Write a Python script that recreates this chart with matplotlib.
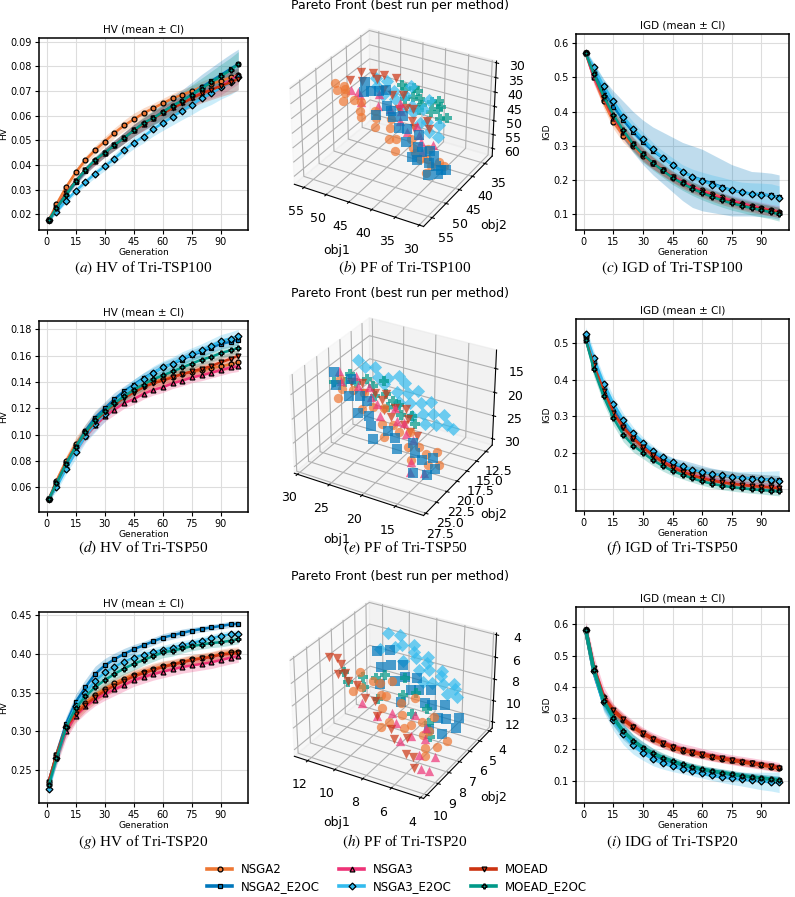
import numpy as np
import matplotlib
matplotlib.use("Agg")
import matplotlib.pyplot as plt

plt.rcParams['mathtext.fontset'] = 'stix'

W, H = 795, 897

METHODS = ["NSGA2", "NSGA2_E2OC", "NSGA3", "NSGA3_E2OC", "MOEAD", "MOEAD_E2OC"]
COLORS = ["#EE7733", "#0077BB", "#EE3377", "#33BBEE", "#CC3311", "#009988"]
MARKERS = ["o", "s", "^", "D", "v", "P"]

GEN = [1, 5, 10, 15, 20, 25, 30, 35, 40, 45, 50, 55, 60, 65, 70, 75, 80, 85, 90, 95, 99]

# ---- HV Tri-TSP100 (mean) ----
HV100_NSGA2 = [.0175, .024, .031, .037, .042, .046, .0495, .053, .056, .0585, .061, .063, .065, .067, .0685, .070, .0715, .073, .074, .0755, .0765]
HV100_NSGA2_E2OC = [.0175, .022, .028, .033, .0375, .0415, .045, .048, .051, .054, .0565, .059, .0615, .064, .066, .0685, .0715, .074, .0765, .079, .081]
HV100_NSGA3 = [.0175, .0225, .0285, .0335, .038, .0415, .045, .048, .051, .054, .0565, .059, .0615, .0635, .0655, .0675, .069, .0705, .072, .0745, .0765]
HV100_NSGA3_E2OC = [.0175, .021, .0255, .0295, .033, .0365, .0395, .0425, .046, .049, .0515, .0545, .057, .0595, .062, .0645, .067, .069, .0715, .0735, .0755]
HV100_MOEAD = [.0175, .0225, .0285, .0335, .038, .0415, .045, .048, .051, .054, .0565, .059, .061, .063, .065, .067, .069, .0705, .072, .0735, .075]
HV100_MOEAD_E2OC = [.0175, .0225, .028, .0335, .038, .042, .045, .048, .051, .054, .057, .059, .0615, .064, .066, .0685, .071, .0735, .076, .0785, .081]
# CI half widths
HV100_CI_NSGA2 = [.0005, .001, .0012, .0015, .0016, .0018, .002, .002, .0022, .0025, .0022, .002, .002, .002, .0022, .0022, .0024, .0025, .0025, .0026, .0026]
HV100_CI_NSGA2_E2OC = [.0005, .0008, .001, .0012, .0014, .0016, .0018, .002, .0022, .0024, .0026, .003, .0035, .004, .0045, .005, .0052, .0055, .0058, .006, .006]
HV100_CI_NSGA3 = [.0005, .0008, .001, .0012, .0014, .0016, .0018, .002, .0022, .0024, .0025, .0025, .0026, .0027, .0028, .003, .0032, .0034, .0036, .0036, .0036]
HV100_CI_NSGA3_E2OC = [.0005, .0008, .001, .0012, .0014, .0016, .0018, .002, .0022, .0024, .0026, .0028, .003, .0033, .0036, .004, .0042, .0045, .0048, .005, .005]
HV100_CI_MOEAD = [.0005, .0008, .001, .0012, .0014, .0016, .0018, .002, .0022, .0024, .0025, .0026, .0028, .003, .0032, .0035, .0038, .004, .0042, .0045, .0045]
HV100_CI_MOEAD_E2OC = [.0005, .0008, .001, .0012, .0014, .0016, .0018, .002, .0022, .0024, .0026, .0028, .003, .0033, .0036, .004, .0042, .0045, .0048, .005, .005]

# ---- IGD Tri-TSP100 ----
IGD100_NSGA2 = [.57, .50, .43, .37, .33, .30, .27, .25, .23, .21, .195, .18, .17, .16, .15, .14, .13, .125, .118, .112, .108]
IGD100_NSGA2_E2OC = [.57, .52, .46, .415, .375, .34, .31, .285, .265, .245, .225, .21, .20, .19, .18, .17, .165, .16, .158, .155, .15]
IGD100_NSGA3 = [.57, .50, .44, .38, .34, .305, .275, .25, .23, .21, .195, .18, .168, .157, .148, .14, .132, .125, .118, .112, .108]
IGD100_NSGA3_E2OC = [.57, .53, .475, .43, .385, .35, .32, .29, .265, .245, .225, .21, .198, .187, .178, .17, .164, .16, .157, .154, .148]
IGD100_MOEAD = [.57, .51, .44, .385, .34, .305, .275, .25, .228, .208, .19, .176, .164, .153, .143, .135, .127, .12, .115, .11, .105]
IGD100_MOEAD_E2OC = [.57, .51, .445, .39, .345, .305, .275, .25, .228, .207, .19, .175, .162, .151, .141, .132, .125, .118, .112, .106, .10]
IGD100_CI_NSGA2 = [.01, .015, .02, .02, .02, .018, .018, .017, .016, .015, .015, .014, .014, .013, .013, .012, .012, .012, .012, .012, .012]
IGD100_CI_NSGA2_E2OC = [.01, .02, .035, .045, .055, .06, .065, .07, .075, .08, .085, .09, .09, .085, .08, .075, .07, .065, .065, .065, .065]
IGD100_CI_NSGA3 = [.012, .02, .022, .02, .02, .018, .018, .017, .016, .016, .015, .015, .015, .015, .015, .015, .016, .016, .017, .017, .017]
IGD100_CI_NSGA3_E2OC = [.01, .015, .02, .02, .02, .02, .02, .02, .02, .02, .02, .022, .025, .028, .03, .03, .03, .032, .034, .035, .035]
IGD100_CI_MOEAD = [.012, .02, .02, .02, .02, .018, .018, .017, .016, .015, .015, .015, .015, .015, .015, .015, .015, .015, .015, .015, .015]
IGD100_CI_MOEAD_E2OC = [.01, .015, .02, .022, .022, .022, .022, .021, .02, .02, .02, .02, .02, .02, .02, .02, .02, .02, .02, .02, .02]

# ---- HV Tri-TSP50 ----
HV50_NSGA2 = [.051, .065, .080, .093, .103, .112, .119, .125, .130, .134, .137, .140, .142, .144, .146, .1475, .149, .1505, .152, .1535, .155]
HV50_NSGA2_E2OC = [.051, .063, .078, .091, .103, .113, .120, .127, .133, .138, .143, .147, .151, .154, .157, .1605, .163, .166, .169, .1705, .172]
HV50_NSGA3 = [.051, .063, .077, .089, .099, .107, .114, .119, .124, .127, .131, .134, .136, .139, .141, .1435, .145, .147, .149, .151, .152]
HV50_NSGA3_E2OC = [.051, .060, .074, .087, .099, .108, .116, .124, .131, .137, .142, .147, .151, .154, .158, .161, .164, .1675, .171, .173, .175]
HV50_MOEAD = [.051, .063, .078, .091, .101, .110, .117, .123, .128, .132, .136, .139, .141, .1435, .146, .148, .150, .152, .155, .1575, .160]
HV50_MOEAD_E2OC = [.051, .063, .078, .091, .102, .111, .118, .124, .129, .134, .138, .142, .145, .148, .151, .154, .157, .159, .162, .164, .166]
HV50_CI_NSGA2 = [.002, .003, .004, .005, .005, .005, .005, .004, .004, .004, .004, .004, .004, .004, .004, .004, .004, .004, .004, .004, .004]
HV50_CI_NSGA2_E2OC = [.002, .003, .004, .005, .005, .005, .005, .005, .004, .004, .004, .004, .004, .004, .004, .004, .004, .004, .004, .004, .004]
HV50_CI_NSGA3 = [.002, .003, .003, .004, .004, .004, .004, .004, .004, .004, .004, .004, .004, .004, .004, .004, .004, .004, .004, .004, .004]
HV50_CI_NSGA3_E2OC = [.002, .003, .004, .005, .005, .006, .006, .005, .005, .005, .005, .005, .005, .005, .005, .005, .005, .005, .005, .005, .005]
HV50_CI_MOEAD = [.002, .003, .003, .004, .004, .004, .004, .004, .004, .004, .004, .004, .004, .005, .005, .005, .005, .005, .005, .005, .005]
HV50_CI_MOEAD_E2OC = [.002, .003, .003, .004, .004, .004, .004, .004, .004, .004, .004, .004, .004, .004, .004, .004, .004, .004, .004, .004, .004]

# ---- IGD Tri-TSP50 ----
IGD50_NSGA2 = [.52, .44, .37, .31, .27, .24, .215, .195, .18, .167, .157, .15, .145, .14, .136, .133, .13, .128, .126, .124, .122]
IGD50_NSGA2_E2OC = [.52, .45, .38, .32, .275, .245, .22, .20, .184, .17, .16, .153, .147, .142, .138, .135, .132, .13, .128, .126, .125]
IGD50_NSGA3 = [.51, .44, .37, .31, .27, .24, .215, .194, .177, .163, .15, .14, .132, .126, .12, .116, .113, .11, .108, .106, .105]
IGD50_NSGA3_E2OC = [.525, .46, .39, .335, .29, .255, .228, .206, .188, .174, .163, .154, .147, .142, .138, .134, .131, .129, .127, .125, .123]
IGD50_MOEAD = [.51, .44, .37, .31, .27, .24, .215, .193, .175, .16, .148, .138, .13, .124, .119, .115, .112, .109, .107, .105, .103]
IGD50_MOEAD_E2OC = [.51, .43, .355, .295, .25, .22, .20, .18, .164, .15, .14, .13, .122, .115, .11, .106, .103, .10, .098, .096, .094]
IGD50_CI_NSGA2 = [.015, .02, .02, .02, .018, .016, .015, .014, .013, .013, .013, .014, .015, .016, .016, .015, .015, .015, .015, .015, .015]
IGD50_CI_NSGA2_E2OC = [.015, .02, .02, .02, .018, .016, .015, .014, .014, .016, .02, .02, .018, .016, .015, .014, .013, .013, .013, .013, .013]
IGD50_CI_NSGA3 = [.015, .02, .02, .02, .018, .016, .015, .015, .014, .013, .012, .012, .012, .012, .012, .012, .012, .012, .012, .012, .012]
IGD50_CI_NSGA3_E2OC = [.02, .02, .02, .02, .018, .016, .015, .014, .013, .013, .013, .013, .013, .014, .015, .016, .018, .02, .022, .025, .028]
IGD50_CI_MOEAD = [.015, .02, .02, .02, .018, .016, .015, .014, .013, .012, .012, .011, .011, .011, .011, .011, .011, .011, .011, .011, .011]
IGD50_CI_MOEAD_E2OC = [.015, .02, .02, .02, .02, .018, .016, .015, .014, .013, .012, .011, .011, .011, .011, .011, .011, .011, .011, .012, .012]

# ---- HV Tri-TSP20 ----
HV20_NSGA2 = [.235, .27, .305, .325, .337, .347, .355, .362, .368, .373, .377, .381, .384, .387, .39, .393, .395, .397, .400, .402, .403]
HV20_NSGA2_E2OC = [.235, .27, .31, .338, .357, .374, .385, .393, .40, .406, .411, .416, .421, .424, .427, .430, .432, .434, .436, .438, .439]
HV20_NSGA3 = [.235, .265, .30, .32, .332, .341, .348, .354, .36, .366, .37, .374, .377, .380, .383, .385, .387, .389, .392, .395, .397]
HV20_NSGA3_E2OC = [.226, .265, .305, .333, .35, .365, .376, .383, .39, .395, .399, .402, .405, .408, .411, .414, .417, .42, .423, .425, .426]
HV20_MOEAD = [.235, .27, .305, .322, .334, .344, .352, .359, .365, .371, .375, .379, .383, .386, .389, .392, .394, .396, .399, .400, .401]
HV20_MOEAD_E2OC = [.23, .265, .305, .33, .345, .357, .366, .374, .381, .387, .392, .397, .402, .404, .407, .410, .412, .414, .415, .417, .419]
HV20_CI_NSGA2 = [.006, .008, .008, .008, .008, .008, .008, .007, .007, .007, .007, .007, .007, .006, .006, .006, .006, .006, .006, .006, .006]
HV20_CI_NSGA2_E2OC = [.006, .008, .009, .01, .01, .01, .009, .008, .007, .006, .005, .005, .005, .005, .005, .004, .004, .004, .004, .004, .004]
HV20_CI_NSGA3 = [.006, .01, .01, .009, .009, .008, .008, .008, .008, .008, .008, .008, .008, .008, .008, .008, .008, .008, .008, .008, .008]
HV20_CI_NSGA3_E2OC = [.006, .008, .009, .01, .01, .009, .008, .007, .007, .007, .006, .006, .006, .006, .006, .005, .005, .005, .005, .005, .005]
HV20_CI_MOEAD = [.006, .01, .01, .009, .008, .008, .008, .007, .007, .007, .007, .007, .007, .006, .006, .006, .006, .006, .006, .006, .006]
HV20_CI_MOEAD_E2OC = [.006, .008, .009, .01, .01, .009, .009, .008, .008, .008, .007, .007, .007, .007, .006, .006, .006, .006, .006, .006, .006]

# ---- IGD Tri-TSP20 ----
IGD20_NSGA2 = [.58, .45, .36, .32, .295, .27, .25, .233, .218, .205, .196, .19, .183, .176, .17, .165, .16, .155, .15, .145, .14]
IGD20_NSGA2_E2OC = [.58, .45, .35, .30, .255, .225, .205, .185, .17, .16, .15, .142, .135, .13, .125, .12, .115, .111, .108, .105, .103]
IGD20_NSGA3 = [.58, .46, .37, .325, .297, .274, .252, .235, .222, .21, .20, .193, .186, .179, .173, .167, .162, .157, .152, .147, .143]
IGD20_NSGA3_E2OC = [.58, .45, .35, .295, .25, .215, .19, .17, .157, .147, .138, .13, .123, .117, .112, .108, .105, .102, .099, .097, .095]
IGD20_MOEAD = [.58, .46, .365, .325, .296, .272, .251, .234, .22, .207, .198, .191, .184, .177, .171, .166, .161, .156, .151, .146, .141]
IGD20_MOEAD_E2OC = [.58, .455, .355, .30, .258, .228, .205, .188, .174, .162, .152, .144, .137, .131, .126, .121, .116, .112, .108, .105, .102]
IGD20_CI_NSGA2 = [.02, .02, .02, .018, .016, .015, .014, .014, .013, .013, .013, .013, .012, .012, .012, .012, .012, .012, .012, .012, .012]
IGD20_CI_NSGA2_E2OC = [.02, .02, .025, .025, .025, .022, .02, .018, .016, .015, .014, .013, .012, .012, .012, .012, .012, .012, .012, .012, .012]
IGD20_CI_NSGA3 = [.03, .04, .03, .02, .02, .018, .018, .018, .018, .018, .018, .018, .017, .017, .016, .016, .016, .016, .016, .016, .015]
IGD20_CI_NSGA3_E2OC = [.02, .02, .03, .035, .035, .03, .025, .022, .02, .018, .016, .015, .015, .016, .018, .02, .022, .025, .028, .03, .033]
IGD20_CI_MOEAD = [.02, .02, .02, .018, .016, .015, .014, .014, .013, .013, .013, .013, .012, .012, .012, .012, .012, .012, .012, .012, .012]
IGD20_CI_MOEAD_E2OC = [.02, .02, .025, .025, .022, .02, .018, .016, .015, .014, .013, .012, .012, .012, .012, .012, .012, .012, .012, .012, .012]

# ---- Pareto fronts, best run (obj1, obj2, obj3) ----
PF100_NSGA2 = [(55, 47, 36), (54, 48, 37), (53.5, 46, 38), (52, 49, 39), (54.5, 45, 38.5), (51, 47, 40), (49, 48, 42),
               (47, 46, 43), (45, 49, 45), (43, 47, 46), (41, 48, 48), (39, 46, 49), (37, 48, 51), (35, 47, 53),
               (33.5, 48, 54), (32, 46, 55), (34, 49, 55.5), (36, 45, 52), (40, 50, 50), (44, 45, 45),
               (53, 47, 38.5), (50, 46, 41), (48, 49, 43), (46, 47, 44), (42, 49, 47.5), (38, 47, 50.5), (36, 48, 52.5),
               (33, 46, 54)]
PF100_NSGA2_E2OC = [(51, 43, 37), (49, 44, 38.5), (47, 42, 39), (45, 45, 41), (43, 46, 43), (41, 47, 45), (39, 48, 48),
                    (37, 47, 50), (36, 49, 52), (34, 48, 53), (33, 47, 54.5), (32, 48, 56), (35, 46, 51), (38, 45, 48),
                    (42, 44, 44), (46, 47, 43), (33, 50, 55), (31, 47, 55),
                    (50, 45, 38.5), (48, 43, 39), (44, 45, 42.5), (40, 46, 46), (36, 47, 51), (34, 46, 52.5),
                    (32, 47, 55.5), (37, 49, 51.5)]
PF100_NSGA3 = [(53, 45, 39), (52, 44, 40), (50, 46, 41), (48, 43, 40), (45, 44, 43), (42, 45, 45), (39, 44, 46),
               (37, 46, 49), (35, 45, 50), (44, 42, 42),
               (51, 45, 40), (47, 45, 42), (43, 43, 43.5), (40, 46, 47), (38, 45, 48), (36, 47, 51)]
PF100_NSGA3_E2OC = [(50, 41, 37), (48, 40, 38), (46, 41, 39.5), (44, 40, 41), (42, 41, 43), (40, 40, 44), (38, 42, 46),
                    (36, 41, 47), (35, 43, 49), (47, 43, 40), (43, 43, 43), (39, 43, 46),
                    (49, 42, 38.5), (45, 42, 41), (41, 42, 44), (37, 43, 48), (44, 38, 39.5), (40, 38, 42.5)]
PF100_MOEAD = [(52, 43, 34), (50, 42, 34.5), (48, 41, 35), (46, 40, 36), (53, 45, 35.5), (45, 43, 39), (43, 44, 42),
               (41, 42, 43), (39, 45, 46), (37, 43, 47), (44, 41, 40),
               (51, 44, 36), (49, 42, 36), (47, 43, 38), (42, 43, 42), (40, 44, 45), (38, 42, 45.5)]
PF100_MOEAD_E2OC = [(46, 38, 40), (44, 37, 41), (42, 38, 43), (40, 37, 44), (38, 38, 45), (37, 39, 47), (41, 40, 45),
                    (43, 39, 42), (39, 36, 44), (36, 38, 47),
                    (45, 38, 41), (43, 37, 41.5), (41, 39, 44), (39, 39, 45.5), (44, 40, 42.5), (38, 37, 45)]

PF50_NSGA2 = [(28, 21, 16), (27, 22, 17), (25, 20, 18.5), (23, 21, 20), (21, 22, 22), (19, 21, 23.5), (17, 22, 25),
              (15, 21, 26.5), (14, 22, 27.5), (13, 21, 28), (16, 23, 26.5), (20, 23, 23.5), (24, 22, 20), (18, 20, 24),
              (26, 21, 17.5), (22, 20, 20.5), (20, 21, 22.5), (16, 21, 25.5), (14, 20, 26.5), (27, 23, 18)]
PF50_NSGA2_E2OC = [(29, 21, 15), (27, 20, 16.5), (26, 22, 18), (24, 23, 20), (22, 23, 22), (20, 22, 23), (18, 23, 25),
                   (16, 22, 26), (14, 21, 27), (13.5, 23, 28.5), (15, 24, 28), (21, 24, 23.5), (25, 21, 18.5), (17, 21, 25),
                   (28, 22, 16.5), (23, 22, 21), (19, 22, 24), (15, 22, 27), (13, 22, 28), (24, 21, 19)]
PF50_NSGA3 = [(29, 20, 15.5), (27, 19, 16.5), (25, 19, 18), (23, 20, 20), (21, 19, 21), (19, 20, 22.5), (17, 21, 24.5),
              (15.5, 24, 28), (14, 23, 28.5), (22, 21, 21.5), (20, 20, 22.5),
              (28, 21, 16.5), (24, 20, 19), (18, 21, 23.5), (16, 23, 27), (26, 20, 17.5)]
PF50_NSGA3_E2OC = [(27, 17, 16), (26, 16, 16.5), (25, 17, 17.5), (24, 16, 18), (22, 17, 19.5), (21, 16, 20), (20, 17, 21),
                   (19, 16, 21.5), (18, 17, 22.5), (17, 16, 23), (16, 17, 24), (15, 16, 24.5), (23, 15, 18), (20, 15, 20),
                   (18, 15, 21.5), (21, 18, 20.5), (17, 18, 23.5),
                   (28, 17, 15), (24, 17, 18.5), (22, 15, 19), (19, 18, 22.5), (16, 15, 23.5), (14, 16, 25)]
PF50_MOEAD = [(26, 19, 17.5), (24, 19, 19), (23, 18, 19.5), (21, 19, 21), (20, 18, 21.5), (19, 19, 22.5), (22, 20, 21),
              (18, 20, 24), (25, 20, 18.5),
              (27, 20, 17), (23, 19, 20), (21, 20, 22), (19, 20, 23), (17, 20, 24.5)]
PF50_MOEAD_E2OC = [(29, 21, 17), (28, 20, 17.5), (27, 19, 18), (25, 18, 18.5), (23, 18, 19.5), (21, 18, 21), (20, 19, 22),
                   (18, 19, 23), (24, 17, 18), (22, 19, 21),
                   (28, 19, 16.5), (26, 18, 17.5), (24, 19, 19.5), (22, 18, 20.5), (19, 18, 22.5)]

PF20_NSGA2 = [(10.5, 7.5, 6.5), (10, 8, 7.2), (9.5, 7, 7.5), (9, 7.5, 8), (8.5, 8, 8.6), (8, 7, 8.8), (7.5, 7.5, 9.3),
              (7, 8, 9.8), (6.5, 7, 10), (6, 7.5, 10.5), (5.5, 8, 11), (5, 7.5, 11.2), (4.7, 7, 11), (9, 6.5, 7.6),
              (7.5, 6.3, 8.8), (6, 6.5, 9.8), (10.2, 8.5, 7.2), (8, 8.7, 9.4),
              (9.8, 7.2, 7.3), (8.8, 7.3, 8.2), (7.8, 8.3, 9.3), (6.8, 7.6, 9.8), (5.8, 7.2, 10.4), (5.2, 8.4, 11.3)]
PF20_NSGA2_E2OC = [(10.5, 6, 5.8), (10, 5.5, 6), (9.5, 6, 6.8), (9, 5.5, 7), (8.5, 6, 7.5), (8, 5.5, 7.8), (7.5, 6, 8.3),
                   (7, 5.5, 8.6), (6.5, 6, 9.3), (6, 5.5, 9.6), (5.5, 6, 10.3), (5, 5.5, 10.4), (9.5, 7, 7.6), (8, 7, 8.7),
                   (6, 7, 10.4), (5.2, 6.8, 10.8),
                   (9.8, 6.5, 6.6), (8.8, 6.5, 7.5), (7.8, 6.3, 8.2), (6.8, 6.3, 9), (5.8, 6.4, 9.9), (4.8, 6, 10.8)]
PF20_NSGA3 = [(9.5, 8.5, 8), (8.5, 8.5, 8.8), (7.5, 8, 9.5), (6.5, 8, 10.3), (5.5, 8.5, 11.2), (5, 9, 11.8), (4.8, 8, 11.6),
              (7, 7, 9.5), (6, 7.2, 10.2),
              (8, 7.8, 9), (6.8, 8.6, 10.3), (5.8, 7.6, 10.7), (4.6, 8.8, 12)]
PF20_NSGA3_E2OC = [(10.5, 5, 5), (10, 4.6, 5.3), (9.5, 5, 5.8), (9, 4.5, 6), (8.5, 5, 6.6), (8, 4.5, 6.8), (7.5, 5, 7.4),
                   (7, 4.5, 7.7), (6.5, 5, 8.3), (6, 4.6, 8.5), (5.5, 5, 9.1), (9, 5.5, 6.6), (8, 5.3, 7.3), (7, 5.4, 8),
                   (6, 5.3, 8.8), (10.5, 5.8, 5.8),
                   (9.8, 5.3, 5.8), (8.8, 4.8, 6.3), (7.8, 4.8, 7), (6.8, 4.8, 7.8), (5.8, 4.8, 8.7), (7.5, 5.6, 7.9)]
PF20_MOEAD = [(12.3, 8, 5.3), (12, 7.7, 5.6), (11.6, 7.8, 5.9), (11.2, 8, 6.4), (10.8, 8.2, 6.8), (10.3, 8, 7.1),
              (9.5, 8.3, 7.8), (8.5, 8.5, 8.8), (7.5, 8.5, 9.6), (6, 9, 10.8), (5.3, 9.2, 11.6), (5.7, 8.8, 11.2),
              (11.4, 8.3, 6.3), (9, 8, 8.1), (7, 8.8, 10), (6.5, 8.3, 10.2)]
PF20_MOEAD_E2OC = [(11.2, 8, 6.3), (10.8, 8.2, 6.9), (10.3, 7.5, 6.9), (9.5, 6.5, 7.2), (8.5, 6, 7.6), (7.5, 6.2, 8.4),
                   (6.5, 6.5, 9.3), (5.5, 7.5, 10.5), (9, 7.8, 8.1), (7, 7.2, 9.3),
                   (10, 7.8, 7.4), (8, 6.8, 8.3), (6, 7, 9.9), (9.8, 7, 7.2)]


def rect(left, top, right, bottom):
    # pixel box -> figure fraction
    return [left / W, 1 - bottom / H, (right - left) / W, (bottom - top) / H]


def line_panel(fig, box, means, cis, title, ylabel, ylim, yticks):
    ax = fig.add_axes(rect(*box))
    for m, ci, c, mk, name in zip(means, cis, COLORS, MARKERS, METHODS):
        m = np.array(m)
        ci = np.array(ci)
        ax.fill_between(GEN, m - ci, m + ci, color=c, alpha=0.25, lw=0)
        ax.plot(GEN, m, color=c, lw=1.8, marker=mk, ms=3.5, mfc=c, mec="black", mew=0.9, label=name)
    ax.set_xlim(-4, 104)
    ax.set_ylim(*ylim)
    ax.set_xticks([0, 15, 30, 45, 60, 75, 90])
    ax.set_yticks(yticks)
    ax.grid(True, color="#dddddd", lw=0.8)
    ax.set_axisbelow(True)
    ax.tick_params(labelsize=7, length=3, width=0.8, pad=2)
    ax.set_title(title, fontsize=7.5, pad=4)
    ax.set_xlabel("Generation", fontsize=6.5, labelpad=1)
    ax.set_ylabel(ylabel, fontsize=6.5, labelpad=2)
    for s in ax.spines.values():
        s.set_linewidth(1.1)
    return ax


def pf_panel(fig, box, fronts, xlim, ylim, zlim, xt, yt, zt, title_y):
    ax = fig.add_axes(rect(*box), projection="3d")
    for pts, c, mk in zip(fronts, COLORS, MARKERS):
        p = np.array(pts)
        ax.scatter(p[:, 0], p[:, 1], p[:, 2], color=c, marker=mk, s=45, alpha=0.7, linewidths=0, depthshade=False)
    ax.set_xlim(*xlim)
    ax.set_ylim(*ylim)
    ax.set_zlim(*zlim)
    ax.set_xticks(xt)
    ax.set_yticks(yt)
    ax.set_zticks(zt)
    ax.tick_params(labelsize=9, pad=1)
    ax.set_xlabel("obj1", fontsize=9, labelpad=2)
    ax.set_ylabel("obj2", fontsize=9, labelpad=2)
    fig.text(400 / W, 1 - title_y / H, "Pareto Front (best run per method)", ha="center", va="center", fontsize=9)
    return ax


def caption(fig, x, y, letter, text):
    fig.text(x / W, 1 - y / H, r"$\mathit{(" + letter + r")}$ " + text, ha="center", va="center",
             family="Liberation Serif", fontsize=11)


fig = plt.figure(figsize=(W / 100, H / 100), dpi=100)

# row 1 : Tri-TSP100
line_panel(fig, (39, 38, 248, 230),
           [HV100_NSGA2, HV100_NSGA2_E2OC, HV100_NSGA3, HV100_NSGA3_E2OC, HV100_MOEAD, HV100_MOEAD_E2OC],
           [HV100_CI_NSGA2, HV100_CI_NSGA2_E2OC, HV100_CI_NSGA3, HV100_CI_NSGA3_E2OC, HV100_CI_MOEAD, HV100_CI_MOEAD_E2OC],
           "HV (mean ± CI)", "HV", (0.0136, 0.0915), [0.02, 0.03, 0.04, 0.05, 0.06, 0.07, 0.08, 0.09])
line_panel(fig, (576, 34, 789, 230),
           [IGD100_NSGA2, IGD100_NSGA2_E2OC, IGD100_NSGA3, IGD100_NSGA3_E2OC, IGD100_MOEAD, IGD100_MOEAD_E2OC],
           [IGD100_CI_NSGA2, IGD100_CI_NSGA2_E2OC, IGD100_CI_NSGA3, IGD100_CI_NSGA3_E2OC, IGD100_CI_MOEAD, IGD100_CI_MOEAD_E2OC],
           "IGD (mean ± CI)", "IGD", (0.054, 0.627), [0.1, 0.2, 0.3, 0.4, 0.5, 0.6])
pf_panel(fig, (277, 11, 507, 241),
         [PF100_NSGA2, PF100_NSGA2_E2OC, PF100_NSGA3, PF100_NSGA3_E2OC, PF100_MOEAD, PF100_MOEAD_E2OC],
         (57.2, 29.1), (58, 32), (62.8, 29.4),
         [55, 50, 45, 40, 35, 30], [35, 40, 45, 50, 55], [30, 35, 40, 45, 50, 55, 60], 6)

# row 2 : Tri-TSP50
line_panel(fig, (39, 321, 248, 512),
           [HV50_NSGA2, HV50_NSGA2_E2OC, HV50_NSGA3, HV50_NSGA3_E2OC, HV50_MOEAD, HV50_MOEAD_E2OC],
           [HV50_CI_NSGA2, HV50_CI_NSGA2_E2OC, HV50_CI_NSGA3, HV50_CI_NSGA3_E2OC, HV50_CI_MOEAD, HV50_CI_MOEAD_E2OC],
           "HV (mean ± CI)", "HV", (0.0413, 0.1863), [0.06, 0.08, 0.10, 0.12, 0.14, 0.16, 0.18])
line_panel(fig, (576, 319, 789, 511),
           [IGD50_NSGA2, IGD50_NSGA2_E2OC, IGD50_NSGA3, IGD50_NSGA3_E2OC, IGD50_MOEAD, IGD50_MOEAD_E2OC],
           [IGD50_CI_NSGA2, IGD50_CI_NSGA2_E2OC, IGD50_CI_NSGA3, IGD50_CI_NSGA3_E2OC, IGD50_CI_MOEAD, IGD50_CI_MOEAD_E2OC],
           "IGD (mean ± CI)", "IGD", (0.0405, 0.567), [0.1, 0.2, 0.3, 0.4, 0.5])
pf_panel(fig, (277, 300, 507, 530),
         [PF50_NSGA2, PF50_NSGA2_E2OC, PF50_NSGA3, PF50_NSGA3_E2OC, PF50_MOEAD, PF50_MOEAD_E2OC],
         (30.5, 10.9), (28, 10.8), (31.4, 11.2),
         [30, 25, 20, 15], [12.5, 15.0, 17.5, 20.0, 22.5, 25.0, 27.5], [15, 20, 25, 30], 294)

# row 3 : Tri-TSP20
line_panel(fig, (39, 612, 248, 803),
           [HV20_NSGA2, HV20_NSGA2_E2OC, HV20_NSGA3, HV20_NSGA3_E2OC, HV20_MOEAD, HV20_MOEAD_E2OC],
           [HV20_CI_NSGA2, HV20_CI_NSGA2_E2OC, HV20_CI_NSGA3, HV20_CI_NSGA3_E2OC, HV20_CI_MOEAD, HV20_CI_MOEAD_E2OC],
           "HV (mean ± CI)", "HV", (0.2074, 0.454), [0.25, 0.30, 0.35, 0.40, 0.45])
ax_last = line_panel(fig, (576, 607, 789, 803),
           [IGD20_NSGA2, IGD20_NSGA2_E2OC, IGD20_NSGA3, IGD20_NSGA3_E2OC, IGD20_MOEAD, IGD20_MOEAD_E2OC],
           [IGD20_CI_NSGA2, IGD20_CI_NSGA2_E2OC, IGD20_CI_NSGA3, IGD20_CI_NSGA3_E2OC, IGD20_CI_MOEAD, IGD20_CI_MOEAD_E2OC],
           "IGD (mean ± CI)", "IGD", (0.0287, 0.655), [0.1, 0.2, 0.3, 0.4, 0.5, 0.6])
pf_panel(fig, (277, 583, 507, 813),
         [PF20_NSGA2, PF20_NSGA2_E2OC, PF20_NSGA3, PF20_NSGA3_E2OC, PF20_MOEAD, PF20_MOEAD_E2OC],
         (13, 3.8), (10.3, 3.7), (12.6, 3.85),
         [12, 10, 8, 6, 4], [4, 5, 6, 7, 8, 9, 10], [4, 6, 8, 10, 12], 576)

caption(fig, 143, 268, "a", "HV of Tri-TSP100")
caption(fig, 405, 268, "b", "PF of Tri-TSP100")
caption(fig, 672, 268, "c", "IGD of Tri-TSP100")
caption(fig, 143, 548, "d", "HV of Tri-TSP50")
caption(fig, 405, 548, "e", "PF of Tri-TSP50")
caption(fig, 672, 548, "f", "IGD of Tri-TSP50")
caption(fig, 143, 842, "g", "HV of Tri-TSP20")
caption(fig, 405, 842, "h", "PF of Tri-TSP20")
caption(fig, 672, 842, "i", "IDG of Tri-TSP20")

handles, labels = ax_last.get_legend_handles_labels()
for h in handles:
    h.set_linewidth(2.6)
fig.legend(handles, labels, loc="center", bbox_to_anchor=(397 / W, 1 - 878 / H), ncol=3, frameon=False,
           fontsize=8.5, handlelength=2.1, columnspacing=1.7, labelspacing=0.3, handletextpad=0.7)

fig.savefig("out.png", dpi=100)
